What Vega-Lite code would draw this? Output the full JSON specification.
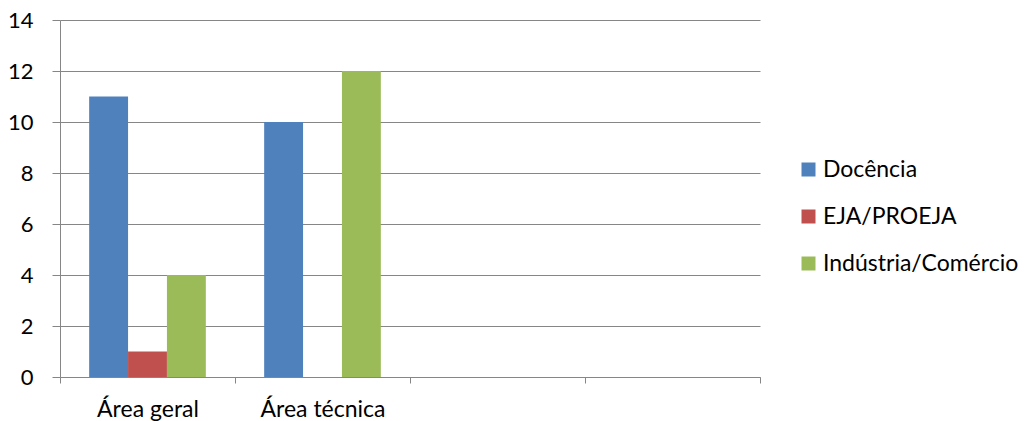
{
  "$schema": "https://vega.github.io/schema/vega-lite/v6.json",
  "width": 700,
  "height": 357,
  "autosize": {"type": "none"},
  "padding": {"left": 60, "top": 20, "right": 274, "bottom": 44},
  "background": "white",
  "config": {"view": {"stroke": null}, "font": "Lato"},
  "data": {
    "values": [
      {"area": "Área geral", "tipo": "Docência", "valor": 11},
      {"area": "Área geral", "tipo": "EJA/PROEJA", "valor": 1},
      {"area": "Área geral", "tipo": "Indústria/Comércio", "valor": 4},
      {"area": "Área técnica", "tipo": "Docência", "valor": 10},
      {"area": "Área técnica", "tipo": "EJA/PROEJA", "valor": 0},
      {"area": "Área técnica", "tipo": "Indústria/Comércio", "valor": 12}
    ]
  },
  "mark": {"type": "bar"},
  "encoding": {
    "x": {
      "field": "area",
      "type": "nominal",
      "scale": {"domain": ["Área geral", "Área técnica", "c3", "c4"], "paddingInner": 0, "paddingOuter": 0},
      "axis": {
        "title": null,
        "labelAngle": 0,
        "labelExpr": "datum.value == 'c3' || datum.value == 'c4' ? '' : datum.value",
        "tickBand": "extent",
        "domainColor": "#868686",
        "tickColor": "#868686",
        "tickSize": 6,
        "labelFontSize": 23,
        "labelColor": "#000000",
        "labelPadding": 15,
        "labelFont": "Lato",
        "labelLimit": 0,
        "grid": false
      }
    },
    "xOffset": {
      "field": "tipo",
      "type": "nominal",
      "scale": {"domain": ["Docência", "EJA/PROEJA", "Indústria/Comércio"], "paddingInner": 0, "paddingOuter": 0.75}
    },
    "y": {
      "field": "valor",
      "type": "quantitative",
      "scale": {"domain": [0, 14], "nice": false},
      "axis": {
        "title": null,
        "values": [0, 2, 4, 6, 8, 10, 12, 14],
        "grid": true,
        "gridColor": "#868686",
        "domainColor": "#868686",
        "tickColor": "#868686",
        "tickSize": 8,
        "labelFontSize": 22,
        "labelColor": "#000000",
        "labelPadding": 19,
        "labelFont": "Lato"
      }
    },
    "color": {
      "field": "tipo",
      "type": "nominal",
      "scale": {"domain": ["Docência", "EJA/PROEJA", "Indústria/Comércio"], "range": ["#4F81BD", "#C0504D", "#9BBB59"]},
      "legend": {
        "title": null,
        "orient": "none",
        "legendX": 737,
        "legendY": 138,
        "symbolType": "square",
        "symbolSize": 196,
        "symbolStrokeWidth": 0,
        "labelFontSize": 23,
        "labelFont": "Lato",
        "labelColor": "#000000",
        "labelLimit": 0,
        "rowPadding": 23,
        "labelOffset": 3
      }
    }
  }
}
